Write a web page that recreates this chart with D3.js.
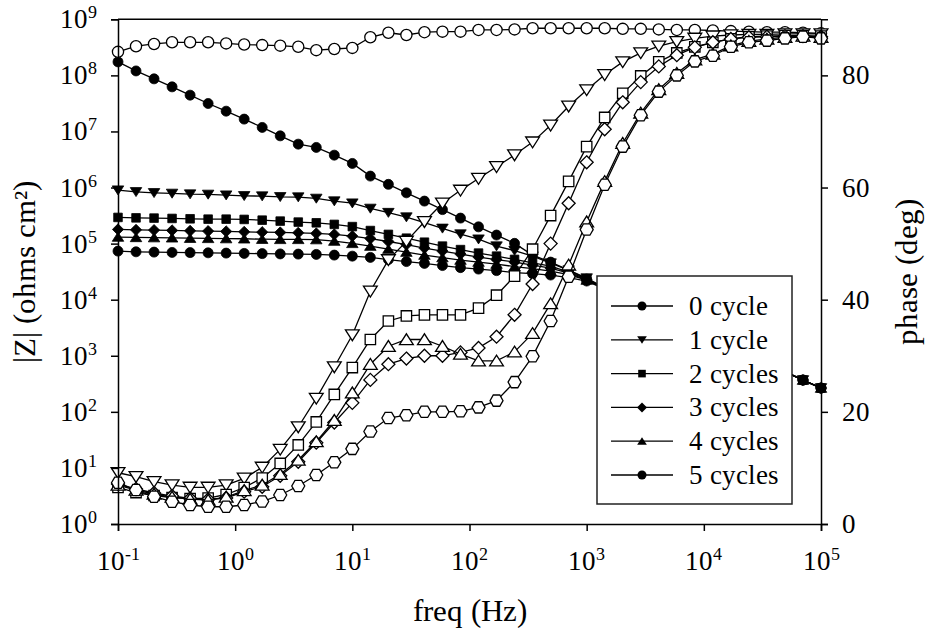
<!DOCTYPE html>
<html><head><meta charset="utf-8">
<script src="https://cdn.jsdelivr.net/npm/d3@7"></script>
<style>
@font-face{font-family:"ChartSerif";src:local("Liberation Serif"),local("LiberationSerif"),local("Liberation Serif Regular"),local("LiberationSerif-Regular");}
body{margin:0;background:#fff}
svg{display:block}
</style>
</head><body>
<svg id="c" width="925" height="629"></svg>
<script>
// ---------------- data ----------------
const freq = [0.1, 0.1425, 0.2031, 0.2894, 0.4125, 0.5878, 0.8377, 1.194, 1.701, 2.424,
  3.455, 4.924, 7.017, 10, 14.25, 20.31, 28.94, 41.25, 58.78, 83.77,
  119.4, 170.1, 242.4, 345.5, 492.4, 701.7, 1000, 1425, 2031, 2894,
  4125, 5878, 8377, 11940, 17010, 24240, 34550, 49240, 70170, 100000];

const seriesNames = ["0 cycle", "1 cycle", "2 cycles", "3 cycles", "4 cycles", "5 cycles"];

const zmod0 = [1.74e8, 1.20e8, 8.67e7, 6.24e7, 4.44e7, 3.15e7, 2.30e7, 1.66e7, 1.18e7, 8.35e6,
  5.94e6, 5.19e6, 3.78e6, 2.69e6, 1.60e6, 1.14e6, 8.05e5, 5.73e5, 4.04e5, 2.85e5,
  1.99e5, 1.42e5, 1.01e5, 6.24e4, 4.68e4, 3.37e4, 2.33e4, 1.59e4, 1.13e4, 8.01e3,
  5.77e3, 4.05e3, 2.87e3, 2.07e3, 1.45e3, 1.03e3, 741, 521, 369, 266];
const zmod1 = [8.99e5, 8.38e5, 8.05e5, 7.85e5, 7.63e5, 7.54e5, 7.32e5, 7.11e5, 7.03e5, 6.83e5,
  6.75e5, 6.39e5, 5.73e5, 5.27e5, 4.24e5, 3.57e5, 2.97e5, 2.37e5, 1.87e5, 1.48e5,
  1.20e5, 9.02e4, 7.50e4, 5.98e4, 4.49e4, 3.37e4, 2.43e4, 1.62e4, 1.15e4, 8.10e3,
  5.80e3, 4.08e3, 2.89e3, 2.07e3, 1.46e3, 1.04e3, 745, 523, 370, 267];
const zmod2 = [2.93e5, 2.88e5, 2.85e5, 2.81e5, 2.77e5, 2.73e5, 2.73e5, 2.70e5, 2.62e5, 2.52e5,
  2.42e5, 2.35e5, 2.20e5, 2.01e5, 1.71e5, 1.46e5, 1.25e5, 1.06e5, 9.02e4, 7.82e4,
  6.77e4, 5.98e4, 5.23e4, 4.55e4, 3.97e4, 3.10e4, 2.33e4, 1.60e4, 1.14e4, 8.05e3,
  5.78e3, 4.06e3, 2.88e3, 2.07e3, 1.45e3, 1.03e3, 742, 522, 369, 266];
const zmod3 = [1.79e5, 1.76e5, 1.74e5, 1.72e5, 1.69e5, 1.67e5, 1.65e5, 1.62e5, 1.60e5, 1.58e5,
  1.56e5, 1.52e5, 1.46e5, 1.36e5, 1.23e5, 1.09e5, 9.60e4, 8.32e4, 7.35e4, 6.50e4,
  5.74e4, 5.19e4, 4.68e4, 4.14e4, 3.66e4, 2.98e4, 2.24e4, 1.57e4, 1.12e4, 8.00e3,
  5.76e3, 4.05e3, 2.87e3, 2.06e3, 1.45e3, 1.03e3, 740, 521, 369, 266];
const zmod4 = [1.31e5, 1.29e5, 1.28e5, 1.27e5, 1.25e5, 1.24e5, 1.23e5, 1.22e5, 1.20e5, 1.19e5,
  1.19e5, 1.18e5, 1.11e5, 1.01e5, 9.02e4, 7.98e4, 7.05e4, 6.24e4, 5.63e4, 5.08e4,
  4.68e4, 4.31e4, 3.89e4, 3.58e4, 3.23e4, 2.80e4, 2.24e4, 1.57e4, 1.12e4, 8.00e3,
  5.76e3, 4.04e3, 2.86e3, 2.06e3, 1.45e3, 1.03e3, 740, 520, 368, 265];
const zmod5 = [7.35e4, 7.14e4, 7.05e4, 6.96e4, 6.91e4, 6.85e4, 6.77e4, 6.69e4, 6.63e4, 6.55e4,
  6.50e4, 6.42e4, 6.24e4, 5.98e4, 5.68e4, 5.19e4, 4.78e4, 4.44e4, 4.06e4, 3.73e4,
  3.51e4, 3.30e4, 3.04e4, 2.92e4, 2.75e4, 2.48e4, 2.15e4, 1.55e4, 1.11e4, 7.95e3,
  5.74e3, 4.04e3, 2.86e3, 2.06e3, 1.45e3, 1.03e3, 740, 520, 368, 265];

const phase0 = [84.2, 85.2, 85.6, 85.9, 85.9, 85.9, 85.7, 85.5, 85.4, 85.3,
  85.1, 84.5, 84.7, 84.9, 86.8, 87.6, 87.2, 87.7, 87.8, 87.8,
  88.1, 88.1, 88.2, 88.4, 88.4, 88.4, 88.4, 88.4, 88.3, 88.3,
  88.2, 88.1, 88.1, 88.0, 87.9, 87.8, 87.7, 87.7, 87.6, 87.5];
const phase1 = [9.14, 8.43, 7.54, 6.95, 6.54, 6.54, 6.95, 8.15, 10.1, 13.3,
  17.3, 22.4, 28.0, 33.7, 41.5, 47.1, 50.4, 53.9, 57.2, 59.5,
  61.6, 63.7, 65.8, 68.1, 71.1, 74.5, 77.4, 80.1, 82.4, 84.0,
  85.2, 86.0, 86.6, 87.0, 87.2, 87.3, 87.3, 87.4, 87.4, 87.4];
const phase2 = [6.51, 5.61, 5.08, 4.72, 4.55, 4.63, 5.26, 6.51, 8.20, 10.8,
  14.1, 18.2, 23.1, 27.9, 32.9, 36.2, 37.1, 37.3, 37.3, 37.3,
  38.5, 40.8, 44.2, 49.0, 55.0, 61.1, 67.3, 72.5, 76.8, 79.9,
  82.4, 84.0, 85.1, 85.9, 86.5, 86.9, 87.0, 87.1, 87.1, 87.0];
const phase3 = [7.13, 6.24, 5.53, 4.99, 4.55, 4.37, 4.63, 5.76, 6.65, 8.61,
  11.1, 14.5, 18.1, 21.6, 25.7, 28.5, 29.5, 30.0, 30.0, 30.6,
  31.4, 33.4, 37.3, 42.8, 50.0, 57.2, 64.5, 70.4, 75.2, 78.8,
  81.6, 83.6, 85.0, 85.9, 86.5, 86.8, 86.9, 87.0, 87.0, 86.9];
const phase4 = [6.95, 6.06, 5.35, 4.81, 4.46, 4.28, 4.81, 5.97, 6.95, 8.86,
  11.4, 14.7, 18.5, 23.4, 28.5, 31.7, 32.9, 32.9, 31.7, 30.3,
  29.1, 29.1, 30.7, 34.0, 39.3, 46.2, 53.9, 61.1, 67.9, 73.3,
  77.5, 80.4, 82.8, 83.8, 85.3, 86.1, 86.5, 86.8, 87.0, 86.8];
const phase5 = [7.36, 6.06, 4.87, 3.98, 3.39, 3.08, 3.08, 3.39, 4.01, 5.17,
  6.77, 8.73, 11.0, 13.4, 16.5, 18.9, 19.4, 20.0, 20.0, 20.1,
  20.8, 22.0, 25.3, 29.9, 36.2, 44.1, 52.5, 60.5, 67.3, 72.9,
  77.1, 80.0, 82.5, 83.5, 85.1, 85.9, 86.2, 86.6, 86.9, 86.6];

const freqTicks = [1e-1, 1e0, 1e1, 1e2, 1e3, 1e4, 1e5];
const zTicks = [1e0, 1e1, 1e2, 1e3, 1e4, 1e5, 1e6, 1e7, 1e8, 1e9];
const phaseTicks = [0, 20, 40, 60, 80];

// ---------------- layout ----------------
const FONT = "ChartSerif, Liberation Serif";
const svg = d3.select("#c");
const L = 118, R = 821, T = 19.3, B = 524;
const x = d3.scaleLog().domain([0.1, 1e5]).range([L, R]);
const yZ = d3.scaleLog().domain([1, 1e9]).range([B, T]);
const yP = d3.scaleLinear().domain([0, 90]).range([B, T]);

function symPath(type, s) {
  const p = d3.path();
  if (type === "circle") { p.moveTo(s, 0); p.arc(0, 0, s, 0, 2 * Math.PI); }
  else if (type === "tridown") { const w = s * 1.15, h = s; p.moveTo(-w, -h * 0.85); p.lineTo(w, -h * 0.85); p.lineTo(0, h * 0.95); p.closePath(); }
  else if (type === "triup") { const w = s * 1.15, h = s; p.moveTo(-w, h * 0.85); p.lineTo(w, h * 0.85); p.lineTo(0, -h * 0.95); p.closePath(); }
  else if (type === "square") { p.rect(-s, -s, 2 * s, 2 * s); }
  else if (type === "diamond") { p.moveTo(0, -s); p.lineTo(s, 0); p.lineTo(0, s); p.lineTo(-s, 0); p.closePath(); }
  else if (type === "hexagon") {
    for (let k = 0; k < 6; k++) { const a = k * Math.PI / 3; const px = s * Math.cos(a), py = s * Math.sin(a); k ? p.lineTo(px, py) : p.moveTo(px, py); }
    p.closePath();
  }
  return p.toString();
}

const zSeries = [zmod0, zmod1, zmod2, zmod3, zmod4, zmod5];
const pSeries = [phase0, phase1, phase2, phase3, phase4, phase5];
const zSym = [["circle", 5], ["tridown", 5], ["square", 4.3], ["diamond", 5.6], ["triup", 5], ["circle", 5]];
const pSym = [["circle", 5.6], ["tridown", 6], ["square", 5.2], ["diamond", 6.5], ["triup", 6], ["hexagon", 6.5]];
const legSym = [["circle", 4.5], ["tridown", 4.2], ["square", 3.8], ["diamond", 5], ["triup", 4.2], ["circle", 4.5]];

const plot = svg.append("g");
const lineZ = d3.line().x((d, i) => x(freq[i])).y(d => yZ(d));
const lineP = d3.line().x((d, i) => x(freq[i])).y(d => yP(d));

zSeries.forEach((arr, k) => {
  const g = plot.append("g");
  g.append("path").attr("d", lineZ(arr)).attr("fill", "none").attr("stroke", "#000").attr("stroke-width", 1.3);
  g.selectAll("path.m").data(arr).enter().append("path").attr("class", "m")
    .attr("transform", (d, i) => `translate(${x(freq[i])},${yZ(d)})`)
    .attr("d", symPath(zSym[k][0], zSym[k][1])).attr("fill", "#000").attr("stroke", "#000").attr("stroke-width", 0.8);
});
pSeries.forEach((arr, k) => {
  const g = plot.append("g");
  g.append("path").attr("d", lineP(arr)).attr("fill", "none").attr("stroke", "#000").attr("stroke-width", 1.3);
  g.selectAll("path.m").data(arr).enter().append("path").attr("class", "m")
    .attr("transform", (d, i) => `translate(${x(freq[i])},${yP(d)})`)
    .attr("d", symPath(pSym[k][0], pSym[k][1])).attr("fill", "#fff").attr("stroke", "#000").attr("stroke-width", 1.3);
});

svg.append("line").attr("x1", L).attr("x2", R).attr("y1", T).attr("y2", T).attr("stroke", "#000").attr("stroke-width", 1.5);

const axB = svg.append("g").attr("transform", `translate(0,${B})`)
  .call(d3.axisBottom(x).tickValues(freqTicks).tickSize(7).tickFormat(() => ""));
const axL = svg.append("g").attr("transform", `translate(${L},0)`)
  .call(d3.axisLeft(yZ).tickValues(zTicks).tickSize(7).tickFormat(() => ""));
const axR = svg.append("g").attr("transform", `translate(${R},0)`)
  .call(d3.axisRight(yP).tickValues(phaseTicks).tickSize(7).tickFormat(() => ""));
[axB, axL, axR].forEach(a => {
  a.selectAll("path.domain").attr("stroke", "#000").attr("stroke-width", 1.5);
  a.selectAll(".tick line").attr("stroke", "#000").attr("stroke-width", 1.5);
});

function txt(xp, yp, size) {
  return svg.append("text").attr("x", xp).attr("y", yp).attr("font-size", size)
    .attr("font-family", FONT).style("font-family", FONT).attr("fill", "#000");
}
function powLabel(sel, exp) {
  sel.append("tspan").text("10");
  sel.append("tspan").attr("dy", -10).attr("font-size", 17.5).text(exp);
}
freqTicks.forEach(v => {
  const t = txt(x(v), 570, 26.5).attr("text-anchor", "middle");
  powLabel(t, String(Math.round(Math.log10(v))));
});
zTicks.forEach(v => {
  const t = txt(97, yZ(v) + 9, 26.5).attr("text-anchor", "end");
  powLabel(t, String(Math.round(Math.log10(v))));
});
phaseTicks.forEach(v => { txt(842, yP(v) + 9, 26.5).text(v); });

txt((L + R) / 2, 621, 31).attr("text-anchor", "middle").text("freq (Hz)");
txt(0, 0, 31).attr("transform", `translate(35,${(T + B) / 2}) rotate(-90)`).attr("text-anchor", "middle").text("|Z| (ohms cm²)");
txt(0, 0, 31).attr("transform", `translate(917,${(T + B) / 2}) rotate(-90)`).attr("text-anchor", "middle").text("phase (deg)");

const lg = svg.append("g");
lg.append("rect").attr("x", 597).attr("y", 276).attr("width", 195).attr("height", 228)
  .attr("fill", "#fff").attr("stroke", "#222").attr("stroke-width", 1.5);
seriesNames.forEach((name, k) => {
  const yy = 306 + k * 33.8;
  lg.append("line").attr("x1", 611).attr("x2", 673).attr("y1", yy).attr("y2", yy).attr("stroke", "#000").attr("stroke-width", 1.3);
  lg.append("path").attr("transform", `translate(642,${yy})`).attr("d", symPath(legSym[k][0], legSym[k][1])).attr("fill", "#000");
  lg.append("text").attr("x", 689).attr("y", yy + 9).attr("font-size", 26.5).attr("font-family", FONT)
    .style("font-family", FONT).attr("fill", "#000").text(name);
});
</script>
</body></html>
